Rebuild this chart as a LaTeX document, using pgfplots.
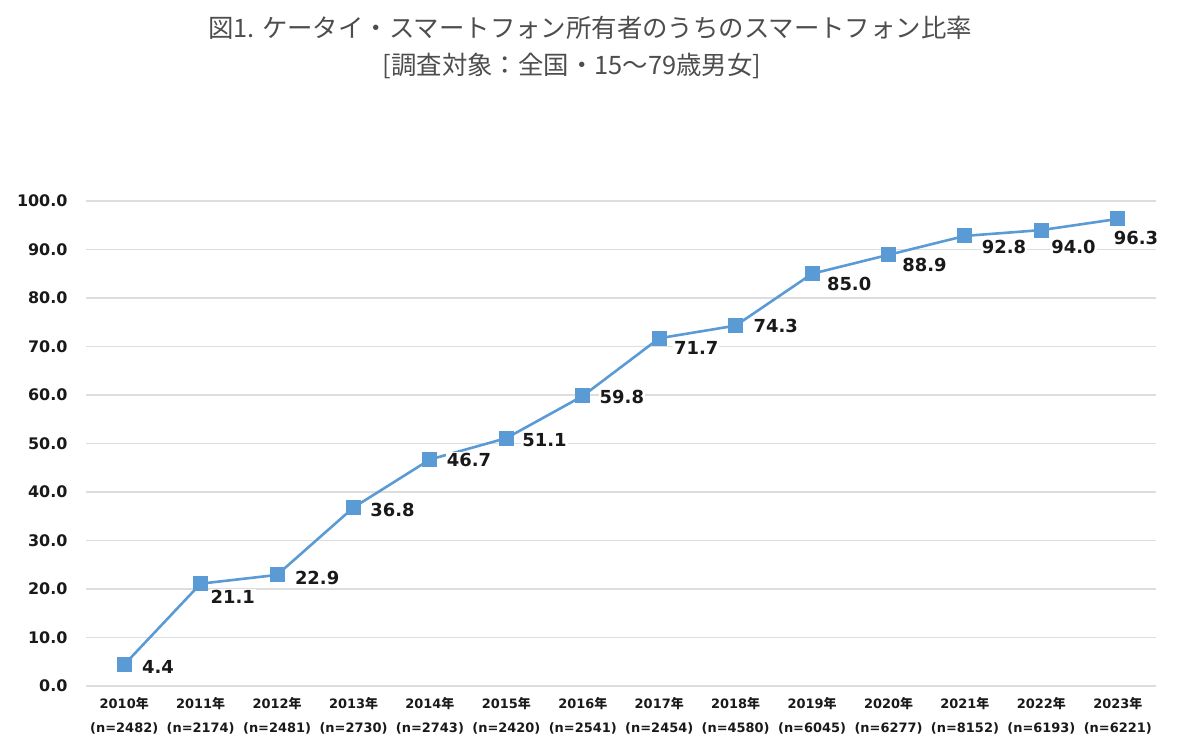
\documentclass[border=0pt]{standalone}
\usepackage{fontspec}
\setmainfont{DejaVu Sans}
\newfontfamily\jp{Noto Sans CJK JP}
\usepackage{pgfplots}
\usepackage{pgfplotstable}
\pgfplotsset{compat=1.18}
\definecolor{serie}{HTML}{5B9BD5}
\definecolor{gridc}{HTML}{DDDDDD}
\definecolor{titlec}{HTML}{4D4D4D}
\newcommand{\nen}{{\jp 年}}

\pgfplotstableread{
x y dx dy lab
0 4.4 17 2 4.4
1 21.1 9 13 21.1
2 22.9 17 3 22.9
3 36.8 16 2 36.8
4 46.7 16 0 46.7
5 51.1 15 2 51.1
6 59.8 16 1 59.8
7 71.7 14 10 71.7
8 74.3 17 0 74.3
9 85.0 14 10 85.0
10 88.9 13 10 88.9
11 92.8 16 11 92.8
12 94.0 9 17 94.0
13 96.3 -5 19 96.3
}\data

\begin{document}
\begin{tikzpicture}[x=1bp,y=1bp]
\path (0,0) rectangle (1200,755);
\node[font=\jp\fontsize{25.5}{28}\selectfont, text=titlec] at (590,727) {図1. ケータイ・スマートフォン所有者のうちのスマートフォン比率};
\node[font=\jp\fontsize{25.5}{28}\selectfont, text=titlec] at (572,689) {[調査対象：全国・15～79歳男女]};
\begin{axis}[
  at={(86bp,69bp)}, anchor=south west,
  scale only axis, width=1070bp, height=485bp,
  xmin=-0.5, xmax=13.5, ymin=0, ymax=100,
  ytick={0,10,...,100},
  xtick={0,...,13},
  xticklabels={
    {2010\nen\\(n=2482)},{2011\nen\\(n=2174)},{2012\nen\\(n=2481)},{2013\nen\\(n=2730)},
    {2014\nen\\(n=2743)},{2015\nen\\(n=2420)},{2016\nen\\(n=2541)},{2017\nen\\(n=2454)},
    {2018\nen\\(n=4580)},{2019\nen\\(n=6045)},{2020\nen\\(n=6277)},{2021\nen\\(n=8152)},
    {2022\nen\\(n=6193)},{2023\nen\\(n=6221)}},
  ymajorgrids,
  grid style={gridc, line width=1.3bp},
  axis line style={draw=none},
  major tick length=0pt,
  y tick label style={/pgf/number format/.cd, fixed, fixed zerofill, precision=1, assume math mode=true, /tikz/.cd,
     font=\bfseries\fontsize{16}{18}\selectfont, text=black!90, xshift=-15bp},
  x tick label style={font=\bfseries\fontsize{13}{23.5}\selectfont, align=center, text=black!90, yshift=-8bp},
  clip=false,
]
\addplot[serie, line width=2.6bp, mark=square*, mark size=7bp,
  mark options={fill=serie, draw=serie, line width=0pt},
  point meta=explicit symbolic,
  visualization depends on={\thisrow{dy} \as \dy},
  visualization depends on={\thisrow{dx} \as \dx},
  nodes near coords={\pgfplotspointmeta},
  nodes near coords style={font=\bfseries\fontsize{18}{20}\selectfont, text=black!90,
     anchor=west, xshift=\dx pt, yshift=-\dy pt, fill=white, inner sep=1bp}
] table[x=x, y=y, meta=lab] {\data};
\end{axis}
\end{tikzpicture}
\end{document}
